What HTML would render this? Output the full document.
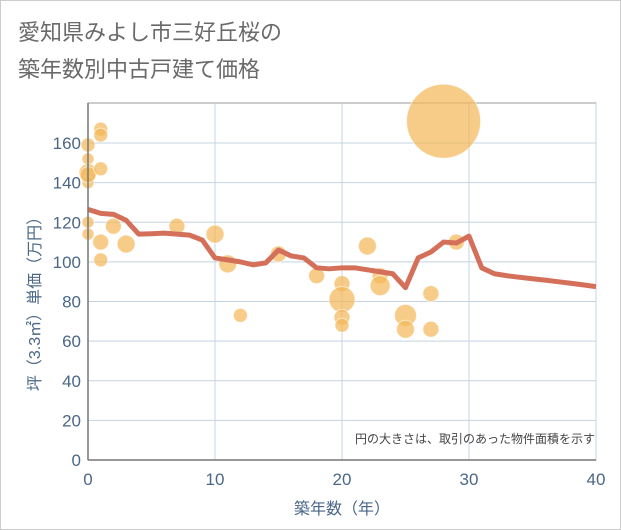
<!DOCTYPE html>
<html><head><meta charset="utf-8"><style>
body{margin:0;background:#fff;font-family:"Liberation Sans","Noto Sans CJK JP",sans-serif;}
#wrap{position:relative;width:619px;height:528px;border:1px solid #ccc;background:#fff;}
</style></head><body>
<div id="wrap">
<svg id="chart" width="621" height="530" style="position:absolute;left:-1px;top:-1px">
<text x="18" y="40" font-size="22" fill="#6a6a6a">愛知県みよし市三好丘桜の</text>
<text x="18" y="77" font-size="22" fill="#6a6a6a">築年数別中古戸建て価格</text>
<g id="grid"></g><g id="bubbles"></g><g id="line"></g><g id="axes"></g>
<text x="595" y="443" font-size="12" fill="#444" text-anchor="end">円の大きさは、取引のあった物件面積を示す</text>
<text x="342" y="514" font-size="16" fill="#4a6788" text-anchor="middle">築年数（年）</text>
<text transform="translate(40,300) rotate(-90)" font-size="16" fill="#4a6788" text-anchor="middle">坪（3.3㎡）単価（万円）</text>
</svg>
</div>
<script>
const xTicks=[0,10,20,30,40];
const yTicks=[0,20,40,60,80,100,120,140,160];
const lineYears=[0,1,2,3,4,5,6,7,8,9,10,11,12,13,14,15,16,17,18,19,20,21,22,23,24,25,26,27,28,29,30,31,32,33,34,35,36,37,38,39,40];
const lineValues=[126.5,124.5,124,121,114,114.2,114.5,114,113.5,111,102,101,100,98.5,99.5,106,103,102,97,96.5,97,97,96,95,94,87,102,105,110,109.5,113,97,94,93,92.2,91.5,90.8,90,89.2,88.4,87.5];
const bubbleYears=[0,0,0,0,0,0,0,1,1,1,1,1,2,3,7,10,11,12,15,18,20,20,20,20,22,23,23,25,25,27,27,28,29];
const bubbleValues=[159,152,145,140,120,114,144,167,164,147,110,101,118,109,118,114,99,73,104,93,89,81,72,68,108,93,88,73,66,84,66,171,110];
const bubbleSizes=[7,6,9,6,6,6,8,7,7,7,8,7,8,9,8,9,9,7,8,8,8,13,8,7,9,8,10,11,9,8,8,37,8];
const L=88,R=596,T=103,B=460;
const xs=v=>L+(v-0)/40*(R-L);
const ys=v=>B-v/160*(B-143);
const NS='http://www.w3.org/2000/svg';
function mk(t,a,p){const e=document.createElementNS(NS,t);for(const k in a)e.setAttribute(k,a[k]);p.appendChild(e);return e;}
const grid=document.getElementById('grid'),axes=document.getElementById('axes');
mk('rect',{x:L,y:T,width:R-L,height:B-T,fill:'none',stroke:'#999','stroke-width':1},grid);
yTicks.forEach(v=>{const l=mk('line',{x1:L,x2:R,y1:ys(v),y2:ys(v),stroke:'#c5d3e2','stroke-width':1},grid);

const t=mk('text',{x:L-7,y:ys(v)+6,'font-size':17,fill:'#4a6788','text-anchor':'end'},axes);t.textContent=v;
});
xTicks.forEach(v=>{const l=mk('line',{x1:xs(v),x2:xs(v),y1:T,y2:B,stroke:'#c5d3e2','stroke-width':1},grid);

const t=mk('text',{x:xs(v),y:B+25,'font-size':17,fill:'#4a6788','text-anchor':'middle'},axes);t.textContent=v;
});
mk('line',{x1:L,x2:L,y1:T,y2:B,stroke:'#777','stroke-width':1.5},axes);
mk('line',{x1:L,x2:R,y1:B,y2:B,stroke:'#777','stroke-width':1.5},axes);
const bg=document.getElementById('bubbles');
bubbleYears.forEach((yr,i)=>{const c=mk('circle',{cx:xs(yr),cy:ys(bubbleValues[i]),r:bubbleSizes[i],fill:'rgba(242,184,90,0.72)',stroke:'rgba(255,255,255,0.6)','stroke-width':1},bg);
});
const pts=lineYears.map((yr,i)=>xs(yr)+','+ys(lineValues[i])).join(' ');
const pl=mk('polyline',{points:pts,fill:'none',stroke:'#d4705a','stroke-width':5,'stroke-linejoin':'round'},document.getElementById('line'));

</script>
</body></html>
